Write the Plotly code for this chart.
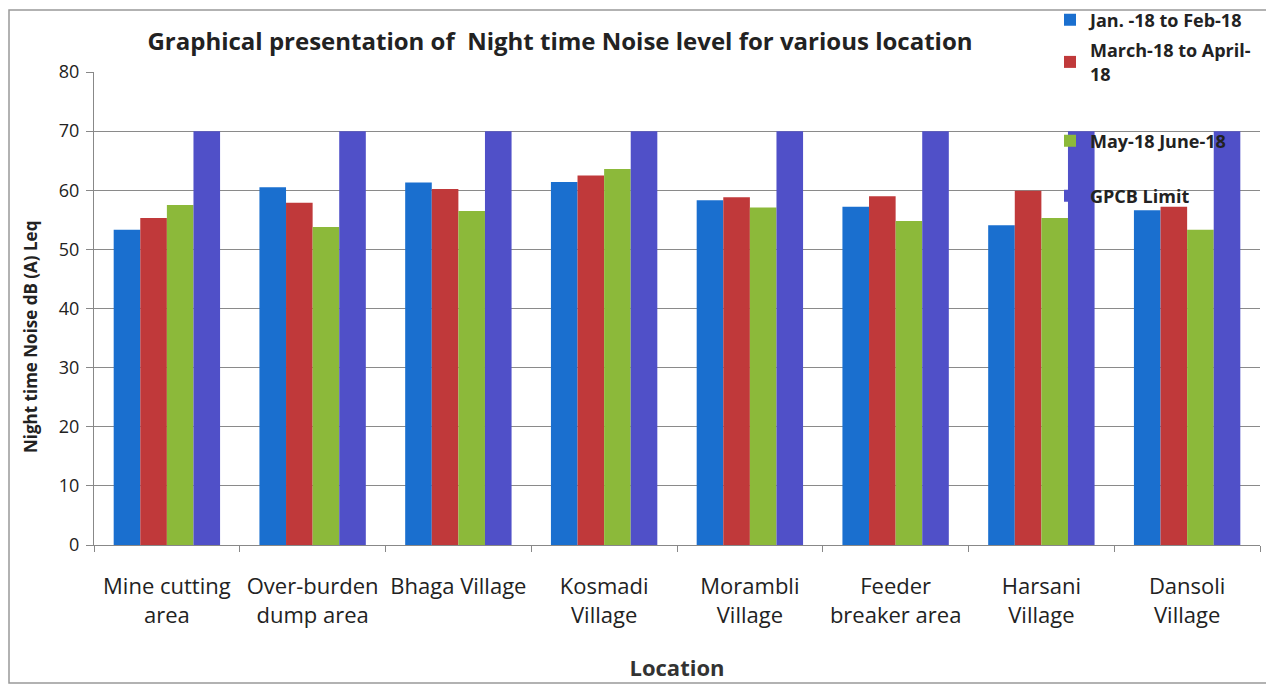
import plotly.graph_objects as go

locations = ["Mine cutting<br>area", "Over-burden<br>dump area", "Bhaga Village",
             "Kosmadi<br>Village", "Morambli<br>Village", "Feeder<br>breaker area",
             "Harsani<br>Village", "Dansoli<br>Village"]
jan_feb = [53.3, 60.5, 61.3, 61.4, 58.3, 57.2, 54.1, 56.6]
mar_apr = [55.3, 57.9, 60.2, 62.5, 58.8, 59.0, 59.9, 57.2]
may_jun = [57.5, 53.8, 56.5, 63.6, 57.1, 54.8, 55.3, 53.3]
gpcb_limit = [70, 70, 70, 70, 70, 70, 70, 70]

series = [
    ("<b>Jan. -18 to Feb-18</b>", jan_feb, "#1a6fcf", "legend"),
    ("<b>March-18 to April-<br>18</b>", mar_apr, "#c0393a", "legend2"),
    ("<b>May-18 June-18</b>", may_jun, "#8cb93a", "legend3"),
    ("<b>GPCB Limit</b>", gpcb_limit, "#5050c8", "legend4"),
]

FONT = "'Open Sans', sans-serif"

# page body adds 8px; figure is 1266x682 so it lands at (8,8)..(1274,690)
W, H = 1266, 682
L, R, T, B = 86, 14, 64, 145
PW, PH = W - L - R, H - T - B

def px_x(sx):
    return (sx - 8 - L) / PW

def px_y(sy):
    return (H - B - (sy - 8)) / PH

fig = go.Figure()
for name, vals, color, leg in series:
    fig.add_trace(go.Bar(x=locations, y=vals, name=name, marker_color=color,
                         marker_line_width=0, legend=leg, showlegend=True))

def leg(sy):
    return dict(x=px_x(1050), y=px_y(sy), xanchor="left", yanchor="middle",
                bgcolor="rgba(0,0,0,0)", font=dict(family=FONT, size=18, color="#222"),
                itemwidth=30, tracegroupgap=0)

fig.update_layout(
    width=W, height=H,
    paper_bgcolor="white", plot_bgcolor="white",
    margin=dict(l=L, r=R, t=T, b=B, autoexpand=False),
    barmode="group", bargap=0.27, bargroupgap=0,
    font=dict(family=FONT, color="#222"),
    showlegend=True,
    title=dict(text="<b>Graphical presentation of  Night time Noise level for various location</b>",
               x=552 / W, xanchor="center", y=1 - 34 / H, yanchor="middle",
               font=dict(family=FONT, size=24, color="#222")),
    legend=leg(20),
    legend2=leg(62),
    legend3=leg(141),
    legend4=leg(196),
    xaxis=dict(showline=True, linecolor="#888", linewidth=1, automargin=False,
               ticks="outside", tickson="boundaries", ticklen=6, tickcolor="#888",
               ticklabelstandoff=22,
               tickfont=dict(family=FONT, size=22, color="#222"),
               title=dict(text="<b>Location</b>", standoff=32,
                          font=dict(family=FONT, size=22, color="#333"))),
    yaxis=dict(range=[0, 80], dtick=10, showline=True, linecolor="#888", linewidth=1,
               automargin=False,
               showgrid=True, gridcolor="#8a8a8a", gridwidth=1,
               ticks="outside", ticklen=7, tickcolor="#888", ticklabelstandoff=3,
               tickfont=dict(family=FONT, size=18, color="#222")),
    annotations=[dict(text="<b>Night time Noise dB (A) Leq</b>", textangle=-90,
                      xref="paper", yref="paper", x=px_x(30), y=px_y(337),
                      xanchor="center", yanchor="middle", showarrow=False,
                      font=dict(family=FONT, size=17, color="#222"))],
    shapes=[dict(type="rect", xref="paper", yref="paper",
                 x0=px_x(9), x1=px_x(1270), y0=px_y(683), y1=px_y(10),
                 line=dict(color="#999", width=1.5), fillcolor="rgba(0,0,0,0)",
                 layer="below")],
)

fig.write_html("out.html")
